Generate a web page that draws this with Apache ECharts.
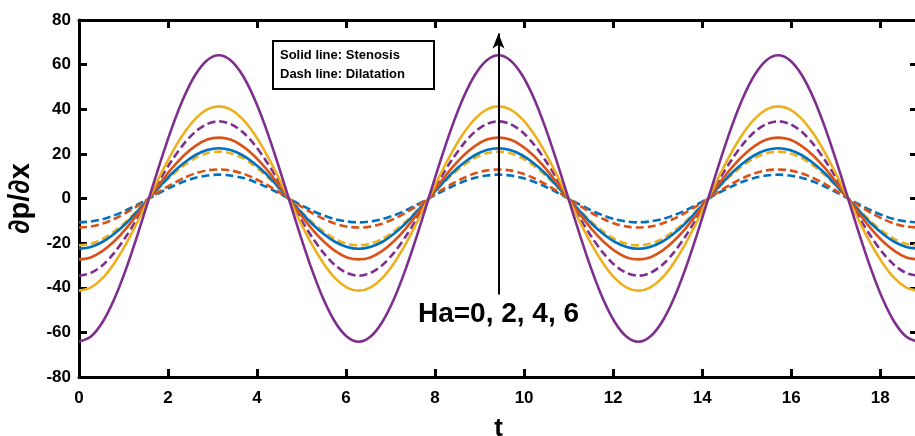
<!DOCTYPE html>
<html>
<head>
<meta charset="utf-8">
<script src="https://cdn.jsdelivr.net/npm/echarts@6/dist/echarts.min.js"></script>
<style>html,body{margin:0;padding:0;background:#fff}#c{width:915px;height:436px}</style>
</head>
<body>
<div id="c"></div>
<script>
// Time samples (t), every 15 degrees from 0 to 6*pi
const tValues = [0, 0.2618, 0.5236, 0.7854, 1.0472, 1.3090, 1.5708, 1.8326, 2.0944, 2.3562, 2.6180, 2.8798,
  3.1416, 3.4034, 3.6652, 3.9270, 4.1888, 4.4506, 4.7124, 4.9742, 5.2360, 5.4978, 5.7596, 6.0214,
  6.2832, 6.5450, 6.8068, 7.0686, 7.3304, 7.5922, 7.8540, 8.1158, 8.3776, 8.6394, 8.9012, 9.1630,
  9.4248, 9.6866, 9.9484, 10.2102, 10.4720, 10.7338, 10.9956, 11.2574, 11.5192, 11.7810, 12.0428, 12.3046,
  12.5664, 12.8282, 13.0900, 13.3518, 13.6136, 13.8754, 14.1372, 14.3990, 14.6608, 14.9226, 15.1844, 15.4462,
  15.7080, 15.9698, 16.2316, 16.4934, 16.7552, 17.0170, 17.2788, 17.5406, 17.8024, 18.0642, 18.3260, 18.5878,
  18.8496];

// Solid lines: Stenosis
const stenosisBlue = [
  -22.5, -21.7, -19.5, -15.9, -11.3, -5.8, 0, 5.8, 11.3, 15.9, 19.5, 21.7, 22.5, 21.7, 19.5, 15.9, 11.3, 5.8, 0, -5.8, -11.3, -15.9, -19.5, -21.7,
  -22.5, -21.7, -19.5, -15.9, -11.3, -5.8, 0, 5.8, 11.3, 15.9, 19.5, 21.7, 22.5, 21.7, 19.5, 15.9, 11.3, 5.8, 0, -5.8, -11.3, -15.9, -19.5, -21.7,
  -22.5, -21.7, -19.5, -15.9, -11.3, -5.8, 0, 5.8, 11.3, 15.9, 19.5, 21.7, 22.5, 21.7, 19.5, 15.9, 11.3, 5.8, 0, -5.8, -11.3, -15.9, -19.5, -21.7,
  -22.5];
const stenosisRed = [
  -27.3, -26.4, -23.6, -19.3, -13.7, -7.1, 0, 7.1, 13.7, 19.3, 23.6, 26.4, 27.3, 26.4, 23.6, 19.3, 13.7, 7.1, 0, -7.1, -13.7, -19.3, -23.6, -26.4,
  -27.3, -26.4, -23.6, -19.3, -13.7, -7.1, 0, 7.1, 13.7, 19.3, 23.6, 26.4, 27.3, 26.4, 23.6, 19.3, 13.7, 7.1, 0, -7.1, -13.7, -19.3, -23.6, -26.4,
  -27.3, -26.4, -23.6, -19.3, -13.7, -7.1, 0, 7.1, 13.7, 19.3, 23.6, 26.4, 27.3, 26.4, 23.6, 19.3, 13.7, 7.1, 0, -7.1, -13.7, -19.3, -23.6, -26.4,
  -27.3];
const stenosisYellow = [
  -41.3, -39.9, -35.8, -29.2, -20.7, -10.7, 0, 10.7, 20.7, 29.2, 35.8, 39.9, 41.3, 39.9, 35.8, 29.2, 20.7, 10.7, 0, -10.7, -20.7, -29.2, -35.8, -39.9,
  -41.3, -39.9, -35.8, -29.2, -20.7, -10.7, 0, 10.7, 20.7, 29.2, 35.8, 39.9, 41.3, 39.9, 35.8, 29.2, 20.7, 10.7, 0, -10.7, -20.7, -29.2, -35.8, -39.9,
  -41.3, -39.9, -35.8, -29.2, -20.7, -10.7, 0, 10.7, 20.7, 29.2, 35.8, 39.9, 41.3, 39.9, 35.8, 29.2, 20.7, 10.7, 0, -10.7, -20.7, -29.2, -35.8, -39.9,
  -41.3];
const stenosisPurple = [
  -64.2, -62.0, -55.6, -45.4, -32.1, -16.6, 0, 16.6, 32.1, 45.4, 55.6, 62.0, 64.2, 62.0, 55.6, 45.4, 32.1, 16.6, 0, -16.6, -32.1, -45.4, -55.6, -62.0,
  -64.2, -62.0, -55.6, -45.4, -32.1, -16.6, 0, 16.6, 32.1, 45.4, 55.6, 62.0, 64.2, 62.0, 55.6, 45.4, 32.1, 16.6, 0, -16.6, -32.1, -45.4, -55.6, -62.0,
  -64.2, -62.0, -55.6, -45.4, -32.1, -16.6, 0, 16.6, 32.1, 45.4, 55.6, 62.0, 64.2, 62.0, 55.6, 45.4, 32.1, 16.6, 0, -16.6, -32.1, -45.4, -55.6, -62.0,
  -64.2];

// Dashed lines: Dilatation
const dilatationBlue = [
  -10.7, -10.3, -9.3, -7.6, -5.4, -2.8, 0, 2.8, 5.4, 7.6, 9.3, 10.3, 10.7, 10.3, 9.3, 7.6, 5.4, 2.8, 0, -2.8, -5.4, -7.6, -9.3, -10.3,
  -10.7, -10.3, -9.3, -7.6, -5.4, -2.8, 0, 2.8, 5.4, 7.6, 9.3, 10.3, 10.7, 10.3, 9.3, 7.6, 5.4, 2.8, 0, -2.8, -5.4, -7.6, -9.3, -10.3,
  -10.7, -10.3, -9.3, -7.6, -5.4, -2.8, 0, 2.8, 5.4, 7.6, 9.3, 10.3, 10.7, 10.3, 9.3, 7.6, 5.4, 2.8, 0, -2.8, -5.4, -7.6, -9.3, -10.3,
  -10.7];
const dilatationRed = [
  -13.0, -12.6, -11.3, -9.2, -6.5, -3.4, 0, 3.4, 6.5, 9.2, 11.3, 12.6, 13.0, 12.6, 11.3, 9.2, 6.5, 3.4, 0, -3.4, -6.5, -9.2, -11.3, -12.6,
  -13.0, -12.6, -11.3, -9.2, -6.5, -3.4, 0, 3.4, 6.5, 9.2, 11.3, 12.6, 13.0, 12.6, 11.3, 9.2, 6.5, 3.4, 0, -3.4, -6.5, -9.2, -11.3, -12.6,
  -13.0, -12.6, -11.3, -9.2, -6.5, -3.4, 0, 3.4, 6.5, 9.2, 11.3, 12.6, 13.0, 12.6, 11.3, 9.2, 6.5, 3.4, 0, -3.4, -6.5, -9.2, -11.3, -12.6,
  -13.0];
const dilatationYellow = [
  -21.0, -20.3, -18.2, -14.8, -10.5, -5.4, 0, 5.4, 10.5, 14.8, 18.2, 20.3, 21.0, 20.3, 18.2, 14.8, 10.5, 5.4, 0, -5.4, -10.5, -14.8, -18.2, -20.3,
  -21.0, -20.3, -18.2, -14.8, -10.5, -5.4, 0, 5.4, 10.5, 14.8, 18.2, 20.3, 21.0, 20.3, 18.2, 14.8, 10.5, 5.4, 0, -5.4, -10.5, -14.8, -18.2, -20.3,
  -21.0, -20.3, -18.2, -14.8, -10.5, -5.4, 0, 5.4, 10.5, 14.8, 18.2, 20.3, 21.0, 20.3, 18.2, 14.8, 10.5, 5.4, 0, -5.4, -10.5, -14.8, -18.2, -20.3,
  -21.0];
const dilatationPurple = [
  -34.6, -33.4, -30.0, -24.5, -17.3, -9.0, 0, 9.0, 17.3, 24.5, 30.0, 33.4, 34.6, 33.4, 30.0, 24.5, 17.3, 9.0, 0, -9.0, -17.3, -24.5, -30.0, -33.4,
  -34.6, -33.4, -30.0, -24.5, -17.3, -9.0, 0, 9.0, 17.3, 24.5, 30.0, 33.4, 34.6, 33.4, 30.0, 24.5, 17.3, 9.0, 0, -9.0, -17.3, -24.5, -30.0, -33.4,
  -34.6, -33.4, -30.0, -24.5, -17.3, -9.0, 0, 9.0, 17.3, 24.5, 30.0, 33.4, 34.6, 33.4, 30.0, 24.5, 17.3, 9.0, 0, -9.0, -17.3, -24.5, -30.0, -33.4,
  -34.6];

// Arrow annotation (data coordinates)
const arrowT = 9.4248;
const arrowFrom = -43;
const arrowTo = 74;
const arrowLabel = 'Ha=0, 2, 4, 6';

const FONT = '"Liberation Sans", Arial, Helvetica, sans-serif';
const colors = { blue: '#0072BD', red: '#D95319', yellow: '#EDB120', purple: '#7E2F8E' };

function pairs(ys) { return tValues.map((t, i) => [t, ys[i]]); }
function lineSeries(name, ys, color, dashed) {
  return {
    name, type: 'line', data: pairs(ys), smooth: 0.3, showSymbol: false, symbol: 'none',
    lineStyle: { color, width: 2.6, type: dashed ? [8, 4] : 'solid' },
    silent: true, z: 3
  };
}

const axisCommon = {
  axisLine: { show: true, onZero: false, lineStyle: { color: '#000', width: 3 } },
  axisTick: { show: true, inside: true, length: 8, lineStyle: { color: '#000', width: 3 } },
  splitLine: { show: false }
};

const chart = echarts.init(document.getElementById('c'), null, { renderer: 'canvas' });
chart.setOption({
  animation: false,
  backgroundColor: '#fff',
  grid: { left: 79, right: -3, top: 20, bottom: 59, containLabel: false, outerBoundsMode: 'none' },
  xAxis: [
    Object.assign({}, axisCommon, {
      type: 'value', min: 0, max: 18.8496, interval: 2, position: 'bottom',
      name: 't', nameLocation: 'middle', nameGap: 39,
      nameTextStyle: { fontFamily: FONT, fontWeight: 'bold', fontSize: 26, color: '#000' },
      axisLabel: { fontFamily: FONT, fontWeight: 'bold', fontSize: 17, color: '#000', margin: 13, showMaxLabel: false }
    }),
    Object.assign({}, axisCommon, {
      type: 'value', min: 0, max: 18.8496, interval: 2, position: 'top',
      axisLabel: { show: false }
    })
  ],
  yAxis: [
    Object.assign({}, axisCommon, {
      type: 'value', min: -80, max: 80, interval: 20, position: 'left',
      name: '∂p/∂x', nameLocation: 'middle', nameGap: 40, nameRotate: 90,
      nameTextStyle: { fontFamily: FONT, fontWeight: 'bold', fontSize: 29, color: '#000' },
      axisLabel: { fontFamily: FONT, fontWeight: 'bold', fontSize: 17, color: '#000', margin: 8 }
    }),
    Object.assign({}, axisCommon, {
      type: 'value', min: -80, max: 80, interval: 20, position: 'right',
      axisLabel: { show: false }
    })
  ],
  series: [
    lineSeries('Dilatation Ha=0', dilatationBlue, colors.blue, true),
    lineSeries('Dilatation Ha=2', dilatationRed, colors.red, true),
    lineSeries('Dilatation Ha=4', dilatationYellow, colors.yellow, true),
    lineSeries('Dilatation Ha=6', dilatationPurple, colors.purple, true),
    lineSeries('Stenosis Ha=0', stenosisBlue, colors.blue, false),
    lineSeries('Stenosis Ha=2', stenosisRed, colors.red, false),
    lineSeries('Stenosis Ha=4', stenosisYellow, colors.yellow, false),
    lineSeries('Stenosis Ha=6', stenosisPurple, colors.purple, false),
    {
      name: 'arrow', type: 'line', data: [], silent: true, z: 5,
      markLine: {
        silent: true, animation: false,
        symbol: ['none', 'arrow'], symbolSize: [9, 15], precision: 4,
        lineStyle: { color: '#000', width: 2, type: 'solid' },
        label: {
          show: true, position: 'start', distance: 6, formatter: arrowLabel,
          fontFamily: FONT, fontWeight: 'bold', fontSize: 28, color: '#000'
        },
        emphasis: { disabled: true },
        data: [[{ coord: [arrowT, arrowFrom] }, { coord: [arrowT, arrowTo] }]]
      }
    }
  ],
  graphic: [
    {
      type: 'group', left: 272, top: 40, silent: true,
      children: [
        { type: 'rect', shape: { x: 0, y: 0, width: 161, height: 48 }, style: { fill: '#fff', stroke: '#000', lineWidth: 2 } },
        { type: 'text', x: 7, y: 14, style: { text: 'Solid line: Stenosis', font: 'bold 13px ' + FONT, fill: '#000', verticalAlign: 'middle' } },
        { type: 'text', x: 7, y: 33, style: { text: 'Dash line: Dilatation', font: 'bold 13px ' + FONT, fill: '#000', verticalAlign: 'middle' } }
      ]
    }
  ]
});
</script>
</body>
</html>
